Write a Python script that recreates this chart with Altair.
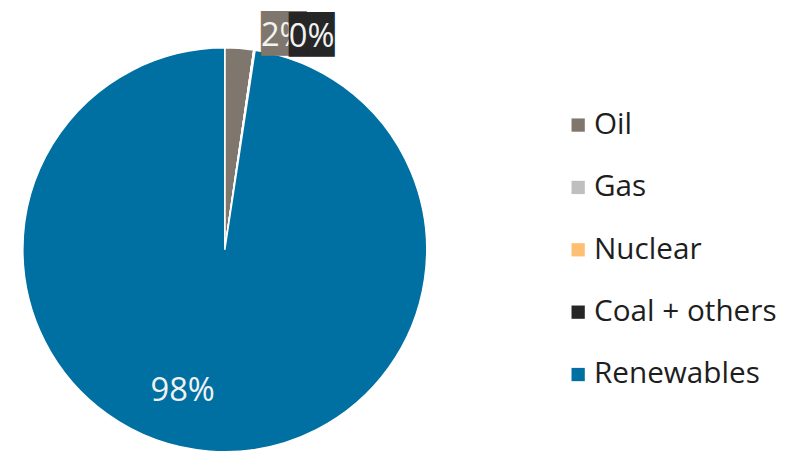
import altair as alt
import pandas as pd

categories = ["Oil", "Gas", "Nuclear", "Coal + others", "Renewables"]
shares = [2.3, 0.0, 0.0, 0.1, 97.6]
colors = ["#7F776E", "#BFBFBF", "#FFBF73", "#262626", "#0070A3"]

df = pd.DataFrame({"source": categories, "share": shares, "order": list(range(len(categories)))})

FONT = "Open Sans"
CX, CY, R = 219, 242, 204

base = alt.Chart(df)

pie = base.mark_arc(stroke="white", strokeWidth=1.5, radius=R).encode(
    theta=alt.Theta("share:Q", stack=True),
    order=alt.Order("order:Q"),
    color=alt.Color(
        "source:N",
        sort=categories,
        scale=alt.Scale(domain=categories, range=colors),
        legend=alt.Legend(
            title=None, orient="none", legendX=561, legendY=101,
            symbolType="square", symbolSize=180, symbolStrokeWidth=0,
            labelFontSize=30, labelFont=FONT, labelColor="#1E1E1E",
            labelOffset=1, rowPadding=33, labelLimit=0,
        ),
    ),
    x=alt.value(CX),
    y=alt.value(CY),
)

lab = base.transform_window(
    cum="sum(share)", sort=[alt.SortField("order")], frame=[None, 0]
).transform_calculate(
    mid="datum.cum - datum.share / 2",
    lbl="format(datum.share / 100, '.0%')",
)


def label(cat, box_color, r, dx, dy, with_box=True, size=33):
    t = lab.transform_filter(alt.datum.source == cat)
    enc = dict(
        theta=alt.Theta("mid:Q", stack=False, scale=alt.Scale(domain=[0, 100])),
        x=alt.value(CX), y=alt.value(CY),
    )
    layers = []
    if with_box:
        layers.append(
            t.mark_text(text="██", font="DejaVu Sans Mono", fontSize=38, color=box_color,
                        radius=r, dx=dx, dy=dy - 1, baseline="middle", align="center").encode(**enc)
        )
    layers.append(
        t.mark_text(font=FONT, fontSize=size, color="#F2F2F2", radius=r, dx=dx, dy=dy,
                    baseline="middle", align="center").encode(text="lbl:N", **enc)
    )
    return layers


layers = [pie]
layers += label("Oil", "#7F776E", 216, 44, 0)
layers += label("Coal + others", "#262626", 216, 56, -1)
layers += label("Renewables", None, 140, -32, 3, with_box=False)

chart = alt.layer(*layers).properties(
    width=789, height=444, padding=0,
    autosize=alt.AutoSizeParams(type="none"),
).configure_view(strokeWidth=0)

chart.save("out.html", embed_options={"renderer": "svg", "actions": False})
